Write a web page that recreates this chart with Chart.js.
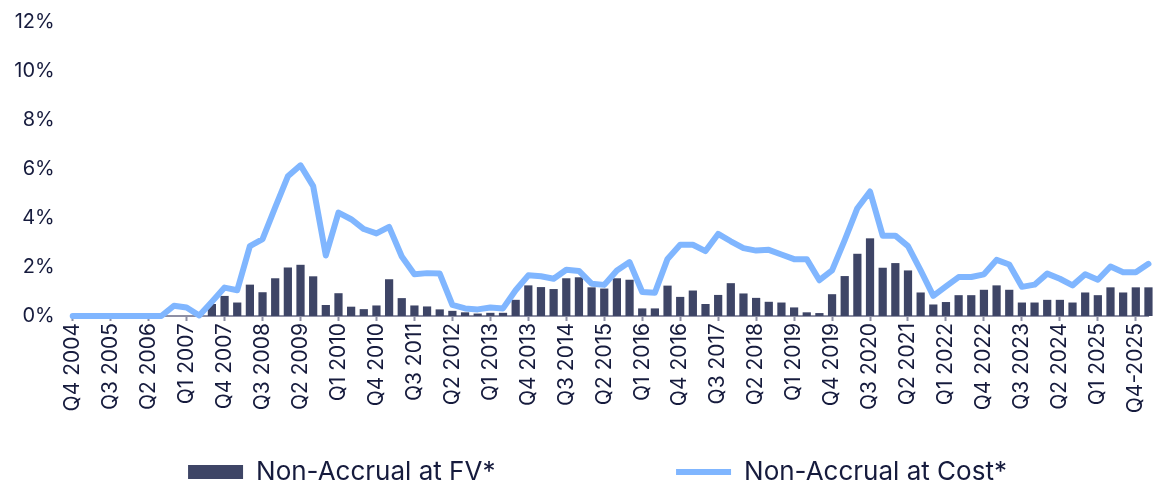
<!DOCTYPE html>
<html>
<head>
<meta charset="utf-8">
<script src="https://cdn.jsdelivr.net/npm/chart.js@4"></script>
<style>
  html, body { margin: 0; padding: 0; background: #ffffff; }
  #wrap { width: 1163px; height: 481px; position: relative; }
</style>
</head>
<body>
<div id="wrap"><canvas id="nonaccrual-chart"></canvas></div>
<script>
// quarters, Q4 2004 .. Q1 2026
const quarters = [
  'Q4 2004',
  'Q1 2005', 'Q2 2005', 'Q3 2005', 'Q4 2005',
  'Q1 2006', 'Q2 2006', 'Q3 2006', 'Q4 2006',
  'Q1 2007', 'Q2 2007', 'Q3 2007', 'Q4 2007',
  'Q1 2008', 'Q2 2008', 'Q3 2008', 'Q4 2008',
  'Q1 2009', 'Q2 2009', 'Q3 2009', 'Q4 2009',
  'Q1 2010', 'Q2 2010', 'Q3 2010', 'Q4 2010',
  'Q1 2011', 'Q2 2011', 'Q3 2011', 'Q4 2011',
  'Q1 2012', 'Q2 2012', 'Q3 2012', 'Q4 2012',
  'Q1 2013', 'Q2 2013', 'Q3 2013', 'Q4 2013',
  'Q1 2014', 'Q2 2014', 'Q3 2014', 'Q4 2014',
  'Q1 2015', 'Q2 2015', 'Q3 2015', 'Q4 2015',
  'Q1 2016', 'Q2 2016', 'Q3 2016', 'Q4 2016',
  'Q1 2017', 'Q2 2017', 'Q3 2017', 'Q4 2017',
  'Q1 2018', 'Q2 2018', 'Q3 2018', 'Q4 2018',
  'Q1 2019', 'Q2 2019', 'Q3 2019', 'Q4 2019',
  'Q1 2020', 'Q2 2020', 'Q3 2020', 'Q4 2020',
  'Q1 2021', 'Q2 2021', 'Q3 2021', 'Q4 2021',
  'Q1 2022', 'Q2 2022', 'Q3 2022', 'Q4 2022',
  'Q1 2023', 'Q2 2023', 'Q3 2023', 'Q4 2023',
  'Q1 2024', 'Q2 2024', 'Q3 2024', 'Q4 2024',
  'Q1 2025', 'Q2 2025', 'Q3 2025', 'Q4-2025',
  'Q1 2026'
];

// non-accrual at fair value, % (bars)
const nonAccrualFV = [
  0, 0, 0, 0, 0, 0, 0, 0, 0, 0, 0, 0.49,
  0.82, 0.55, 1.28, 0.97, 1.54, 1.98, 2.09, 1.62, 0.45, 0.93, 0.38, 0.28,
  0.43, 1.50, 0.73, 0.43, 0.39, 0.27, 0.21, 0.15, 0.10, 0.13, 0.13, 0.66,
  1.25, 1.18, 1.10, 1.54, 1.58, 1.17, 1.12, 1.54, 1.48, 0.31, 0.31, 1.24,
  0.78, 1.04, 0.49, 0.86, 1.34, 0.92, 0.74, 0.58, 0.55, 0.35, 0.15, 0.12,
  0.89, 1.63, 2.54, 3.17, 1.97, 2.16, 1.86, 0.96, 0.47, 0.57, 0.85, 0.85,
  1.07, 1.25, 1.07, 0.55, 0.55, 0.66, 0.66, 0.55, 0.96, 0.85, 1.17, 0.96,
  1.17, 1.17
];

// non-accrual at cost, % (line)
const nonAccrualCost = [
  0, 0, 0, 0, 0, 0, 0, 0, 0.42, 0.35, 0.02, 0.58,
  1.16, 1.05, 2.85, 3.14, 4.43, 5.70, 6.15, 5.30, 2.47, 4.22, 3.95, 3.55,
  3.37, 3.64, 2.43, 1.70, 1.75, 1.73, 0.45, 0.31, 0.27, 0.35, 0.31, 1.05,
  1.66, 1.62, 1.52, 1.89, 1.84, 1.32, 1.27, 1.86, 2.20, 0.98, 0.95, 2.33,
  2.91, 2.91, 2.65, 3.35, 3.05, 2.77, 2.67, 2.70, 2.51, 2.32, 2.32, 1.46,
  1.86, 3.10, 4.40, 5.08, 3.28, 3.28, 2.85, 1.86, 0.82, 1.21, 1.59, 1.59,
  1.70, 2.29, 2.10, 1.19, 1.28, 1.73, 1.52, 1.25, 1.70, 1.48, 2.02, 1.79,
  1.79, 2.13
];

const yTicks = [0, 2, 4, 6, 8, 10, 12];

const navy = '#3e4566';
const sky = '#80b6ff';
const ink = '#161b3d';
const axisGrey = '#8d8fa4';

// legend sits a little right of centre in the original
const legendNudge = {
  id: 'legendNudge',
  afterLayout(chart) {
    chart.legend.left += 16;
    chart.legend.right += 16;
  }
};

const ctx = document.getElementById('nonaccrual-chart').getContext('2d');
new Chart(ctx, {
  data: {
    labels: quarters,
    datasets: [
      {
        type: 'bar',
        label: 'Non-Accrual at FV*',
        data: nonAccrualFV,
        backgroundColor: navy,
        borderWidth: 0,
        barPercentage: 0.65,
        categoryPercentage: 1,
        pointStyle: 'rect',
        order: 1,
        clip: false
      },
      {
        type: 'line',
        label: 'Non-Accrual at Cost*',
        data: nonAccrualCost,
        borderColor: sky,
        backgroundColor: sky,
        borderWidth: 6,
        borderCapStyle: 'round',
        borderJoinStyle: 'round',
        tension: 0,
        pointRadius: 0,
        pointHoverRadius: 0,
        pointStyle: 'line',
        order: 0,
        clip: false
      }
    ]
  },
  options: {
    responsive: true,
    maintainAspectRatio: false,
    animation: false,
    layout: { padding: { top: 11, right: 0, bottom: -14, left: 0 } },
    scales: {
      x: {
        type: 'category',
        offset: false,
        grid: {
          display: true,
          drawOnChartArea: false,
          drawTicks: true,
          tickLength: 5,
          tickWidth: 2,
          color: axisGrey,
          offset: false
        },
        border: { display: true, color: axisGrey, width: 2 },
        ticks: {
          autoSkip: false,
          maxRotation: 90,
          minRotation: 90,
          padding: 2,
          color: ink,
          font: { family: 'Inter', size: 21 },
          // label every third quarter
          callback: function(value, index) {
            return index % 3 === 0 ? quarters[index] : null;
          }
        },
        afterFit: function(scale) { scale.height = 133; }
      },
      y: {
        min: 0,
        max: 12,
        grid: { display: false },
        border: { display: false },
        afterBuildTicks: function(scale) {
          scale.ticks = yTicks.map(v => ({ value: v }));
        },
        ticks: {
          padding: 10,
          color: ink,
          font: { family: 'Inter', size: 20 },
          callback: function(value) { return value + '%'; }
        },
        afterFit: function(scale) { scale.width = 72.7; }
      }
    },
    plugins: {
      tooltip: { enabled: false },
      legend: {
        position: 'bottom',
        labels: {
          usePointStyle: true,
          pointStyleWidth: 55,
          boxHeight: 14,
          padding: 10,
          color: ink,
          font: { family: 'Inter', size: 26 },
          sort: (a, b) => a.datasetIndex - b.datasetIndex,
          generateLabels: function(chart) {
            const items = Chart.defaults.plugins.legend.labels.generateLabels(chart);
            // wide gap between the two legend entries
            items.forEach(item => {
              if (item.datasetIndex === 0) item.text = item.text + '\u2003'.repeat(6) + '  ';
            });
            return items;
          }
        }
      }
    }
  },
  plugins: [legendNudge]
});
</script>
</body>
</html>
